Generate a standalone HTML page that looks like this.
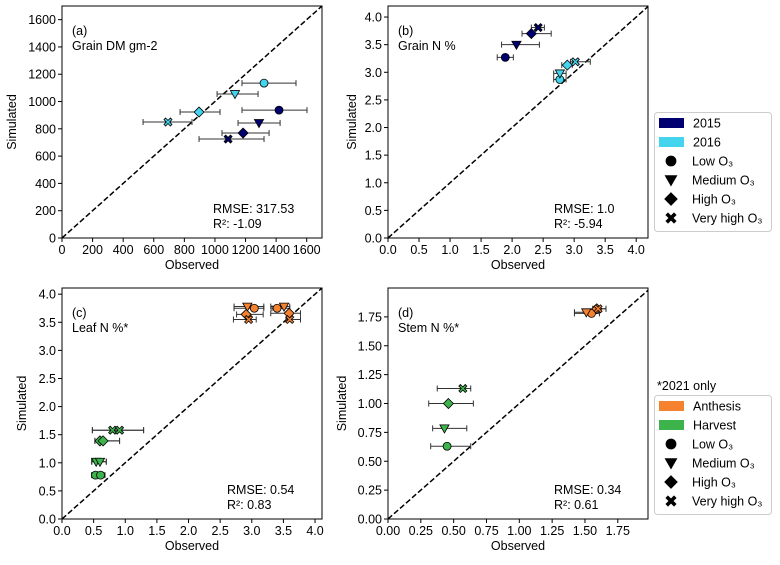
<!DOCTYPE html>
<html><head><meta charset="utf-8"><style>
body{margin:0;background:#fff;width:780px;height:560px;overflow:hidden}
svg{font-family:"Liberation Sans","DejaVu Sans",sans-serif}
</style></head><body>
<svg id="c" width="780" height="560" xmlns="http://www.w3.org/2000/svg"></svg>
<script>
// Panel (a) Grain DM
const obsA=[1321,1131,896,693,1419,1288,1184,1086];
const simA=[1135,1055,923,850,937,843,769,725];
const loA=[1177,1014,772,530,1177,1151,1046,896];
const hiA=[1530,1282,1033,850,1602,1426,1354,1321];
const grpA=['2016','2016','2016','2016','2015','2015','2015','2015'];
const mkA=['o','v','d','x','o','v','d','x'];
// Panel (b) Grain N
const obsB=[1.89,2.07,2.31,2.42,2.77,2.77,2.89,3.02];
const simB=[3.27,3.50,3.70,3.81,2.87,2.98,3.13,3.19];
const loB=[1.76,1.83,2.16,2.31,2.67,2.67,2.80,2.94];
const hiB=[2.02,2.44,2.63,2.52,2.87,2.87,2.97,3.26];
const grpB=['2015','2015','2015','2015','2016','2016','2016','2016'];
const mkB=['o','v','d','x','o','v','d','x'];
// Panel (c) Leaf N
const obsC=[3.04,2.93,2.91,2.95,3.40,3.51,3.59,3.60,0.53,0.61,0.54,0.60,0.60,0.65,0.80,0.91];
const simC=[3.75,3.78,3.64,3.55,3.75,3.78,3.66,3.55,0.78,0.78,1.02,1.02,1.39,1.39,1.58,1.58];
const loC=[2.72,2.72,2.76,2.71,3.32,3.30,3.30,3.54,0.47,0.47,0.47,0.47,0.52,0.52,0.48,0.48];
const hiC=[3.19,3.19,3.18,3.07,3.60,3.60,3.77,3.77,0.66,0.68,0.70,0.70,0.91,0.91,1.29,1.29];
const grpC=['A','A','A','A','A','A','A','A','H','H','H','H','H','H','H','H'];
const mkC=['o','v','d','x','o','v','d','x','o','o','v','v','d','d','x','x'];
// Panel (d) Stem N
const obsD=[0.45,0.43,0.46,0.57,1.55,1.51,1.59,1.60];
const simD=[0.63,0.785,1.00,1.13,1.78,1.79,1.82,1.82];
const loD=[0.325,0.34,0.31,0.375,1.42,1.42,1.56,1.56];
const hiD=[0.63,0.60,0.65,0.63,1.61,1.61,1.66,1.66];
const grpD=['H','H','H','H','A','A','A','A'];
const mkD=['o','v','d','x','o','v','d','x'];
const ticksA=[0,200,400,600,800,1000,1200,1400,1600];
const ticksB=[0,0.5,1,1.5,2,2.5,3,3.5,4];
const ticksD=[0,0.25,0.5,0.75,1,1.25,1.5,1.75];
const colors={'2015':'#000070','2016':'#44d4ee','A':'#f5822f','H':'#3cb44b'};
const NS='http://www.w3.org/2000/svg';
const svg=document.getElementById('c');
function el(t,a,p){const e=document.createElementNS(NS,t);for(const k in a)e.setAttribute(k,a[k]);(p||svg).appendChild(e);return e;}
function txt(s,a,p){const e=el('text',a,p);e.textContent=s;return e;}
function marker(g,m,x,y,fill,s){
  s=s||1;let e;
  if(m==='o')e=el('circle',{cx:x,cy:y,r:4*s,fill:fill,stroke:'#000','stroke-width':0.8},g);
  else if(m==='v'){const r=4.6*s;e=el('polygon',{points:`${x-r},${y-r*0.75} ${x+r},${y-r*0.75} ${x},${y+r}`,fill:fill,stroke:'#000','stroke-width':0.8},g);}
  else if(m==='d'){const r=5*s;e=el('polygon',{points:`${x},${y-r} ${x+r},${y} ${x},${y+r} ${x-r},${y}`,fill:fill,stroke:'#000','stroke-width':0.8},g);}
  else{const r=4*s,w=1.6*s;e=el('path',{d:`M${x-r+w},${y-r}L${x},${y-w}L${x+r-w},${y-r}L${x+r},${y-r+w}L${x+w},${y}L${x+r},${y+r-w}L${x+r-w},${y+r}L${x},${y+w}L${x-r+w},${y+r}L${x-r},${y+r-w}L${x-w},${y}L${x-r},${y-r+w}Z`,fill:fill,stroke:'#000','stroke-width':0.8},g);}
  
  
  return e;
}
function panel(cfg){
  const g=el('g',{});
  
  
  const L=cfg.x0,R=cfg.x1,T=cfg.y0,B=cfg.y1;
  const sx=v=>L+(v/cfg.xmax)*(R-L), sy=v=>B-(v/cfg.ymax)*(B-T);
  const clip='clip'+cfg.id;
  const cp=el('clipPath',{id:clip},g);el('rect',{x:L,y:T,width:R-L,height:B-T},cp);
  const m=Math.min(cfg.xmax,cfg.ymax);
  const dl=el('line',{x1:sx(0),y1:sy(0),x2:sx(cfg.xmax),y2:sy(cfg.xmax),stroke:'#000','stroke-width':1.5,'stroke-dasharray':'5.5,2.5','clip-path':`url(#${clip})`},g);
  
  
  for(let i=0;i<cfg.obs.length;i++){
    const y=sy(cfg.sim[i]),xa=sx(cfg.lo[i]),xb=sx(cfg.hi[i]);
    const eb=el('g',{stroke:'#333','stroke-width':1},g);
    
    
    el('line',{x1:xa,y1:y,x2:xb,y2:y},eb);
    el('line',{x1:xa,y1:y-3,x2:xa,y2:y+3},eb);
    el('line',{x1:xb,y1:y-3,x2:xb,y2:y+3},eb);
  }
  for(let i=0;i<cfg.obs.length;i++) marker(g,cfg.mk[i],sx(cfg.obs[i]),sy(cfg.sim[i]),colors[cfg.grp[i]]);
  el('rect',{x:L,y:T,width:R-L,height:B-T,fill:'none',stroke:'#000','stroke-width':1},g);
  const ax=el('g',{'font-size':'12.5px',fill:'#000'},g);
  
  
  cfg.xt.forEach(v=>{const x=sx(v);el('line',{x1:x,y1:B,x2:x,y2:B+4,stroke:'#000'},ax);txt(cfg.fmt(v),{x:x,y:B+16,'text-anchor':'middle'},ax);});
  const ay=el('g',{'font-size':'12.5px',fill:'#000'},g);
  
  
  cfg.yt.forEach(v=>{const y=sy(v);el('line',{x1:L-4,y1:y,x2:L,y2:y,stroke:'#000'},ay);txt(cfg.fmt(v),{x:L-6,y:y+4.5,'text-anchor':'end'},ay);});
  const xl=txt('Observed',{x:(L+R)/2,y:B+31,'text-anchor':'middle','font-size':'12.5px'},g);
  
  const yl=txt('Simulated',{x:0,y:0,'text-anchor':'middle','font-size':'12.5px',transform:`translate(${cfg.ylx},${(T+B)/2}) rotate(-90)`},g);
  
  const t1=txt(cfg.lab,{x:L+10,y:T+29,'font-size':'12.5px'},g);
  
  const t2=txt(cfg.title,{x:L+10,y:T+44,'font-size':'12.5px'},g);
  
  const r1=txt(cfg.rmse,{x:cfg.sx,y:B-25,'font-size':'12.5px'},g);
  
  const r2=txt(cfg.r2,{x:cfg.sx,y:B-10,'font-size':'12.5px'},g);
  
}
const f0=v=>String(v), f1=v=>v.toFixed(1), f2=v=>v.toFixed(2);
panel({id:'a',x0:62,x1:322,y0:6,y1:238,xmax:1700,ymax:1700,obs:obsA,sim:simA,lo:loA,hi:hiA,grp:grpA,mk:mkA,xt:ticksA,yt:ticksA,fmt:f0,ylx:16,lab:'(a)',title:'Grain DM gm-2',rmse:'RMSE: 317.53',r2:'R²: -1.09',sx:213});
panel({id:'b',x0:388,x1:648,y0:6,y1:238,xmax:4.19,ymax:4.2,obs:obsB,sim:simB,lo:loB,hi:hiB,grp:grpB,mk:mkB,xt:ticksB,yt:ticksB,fmt:f1,ylx:356,lab:'(b)',title:'Grain N %',rmse:'RMSE: 1.0',r2:'R²: -5.94',sx:554});
panel({id:'c',x0:62,x1:322,y0:288,y1:519,xmax:4.11,ymax:4.11,obs:obsC,sim:simC,lo:loC,hi:hiC,grp:grpC,mk:mkC,xt:ticksB,yt:ticksB,fmt:f1,ylx:26,lab:'(c)',title:'Leaf N %*',rmse:'RMSE: 0.54',r2:'R²: 0.83',sx:227});
panel({id:'d',x0:388,x1:648,y0:288,y1:519,xmax:1.98,ymax:2.0,obs:obsD,sim:simD,lo:loD,hi:hiD,grp:grpD,mk:mkD,xt:ticksD,yt:ticksD,fmt:f2,ylx:346,lab:'(d)',title:'Stem N %*',rmse:'RMSE: 0.34',r2:'R²: 0.61',sx:554});
function legend(id,y0,items,title){
  const g=el('g',{'font-size':'12.5px'});
  
  
  if(title)txt(title,{x:657,y:y0-5},g);
  el('rect',{x:654.5,y:y0+0.5,width:117,height:119,rx:3,fill:'#fff',stroke:'#ccc'},g);
  items.forEach((it,i)=>{
    const cy=y0+11+i*19;
    const e=el('g',{},g);
    
    
    if(it.c)el('rect',{x:659,y:cy-5,width:25,height:10,fill:it.c},e);
    else marker(e,it.m,671,cy,'#000',1.25);
    txt(it.t,{x:it.c?693:692,y:cy+4.5},e);
  });
}
const mitems=[{m:'o',t:'Low O₃'},{m:'v',t:'Medium O₃'},{m:'d',t:'High O₃'},{m:'x',t:'Very high O₃'}];
legend('legend-years',112,[{c:colors['2015'],t:'2015'},{c:colors['2016'],t:'2016'}].concat(mitems));
legend('legend-stages',395,[{c:colors['A'],t:'Anthesis'},{c:colors['H'],t:'Harvest'}].concat(mitems),'*2021 only');
</script>
</body></html>
